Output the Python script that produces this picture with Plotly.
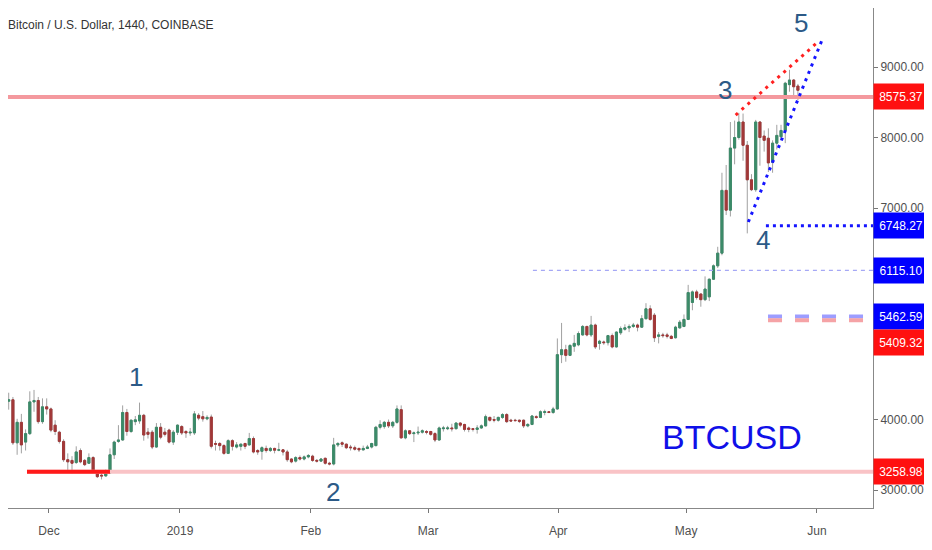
import pandas as pd
import plotly.graph_objects as go

FONT = "Liberation Sans, Arial, sans-serif"

# daily BTCUSD candles, 2018-11-21 .. 2019-05-29
dates = pd.date_range("2018-11-21", "2019-05-29", freq="D")

opens = [
    4350, 4560, 4260, 4280, 3670, 3960, 3680, 3800, 4250, 4270,
    3970, 4180, 4150, 3920, 3820, 3690, 3430, 3420, 3390, 3560,
    3420, 3380, 3460, 3250, 3210, 3200, 3240, 3500, 3690, 3710,
    4100, 3830, 3970, 3980, 4060, 3820, 3820, 3610, 3890, 3820,
    3850, 3680, 3820, 3900, 3830, 3810, 3810, 4060, 4040, 4010,
    4035, 3660, 3660, 3630, 3520, 3700, 3610, 3620, 3660, 3640,
    3730, 3560, 3550, 3590, 3560, 3590, 3565, 3570, 3540, 3440,
    3410, 3460, 3440, 3470, 3480, 3420, 3410, 3450, 3380, 3370,
    3640, 3670, 3650, 3610, 3600, 3590, 3570, 3590, 3610, 3630,
    3890, 3900, 3960, 3910, 3960, 4140, 3740, 3840, 3800, 3810,
    3820, 3830, 3830, 3800, 3710, 3870, 3870, 3880, 3870, 3950,
    3930, 3880, 3870, 3860, 3880, 3910, 4030, 4000, 3990, 4030,
    4070, 3990, 3990, 3990, 3990, 3910, 3930, 4040, 4030, 4100,
    4110, 4100, 4150, 4920, 4990, 4910, 5040, 5060, 5200, 5320,
    5200, 5340, 5080, 5100, 5090, 5190, 5030, 5230, 5280, 5300,
    5320, 5340, 5310, 5430, 5570, 5480, 5180, 5200, 5200, 5180,
    5160, 5300, 5320, 5420, 5660, 5810, 5780, 5700, 5740, 5990,
    6180, 6360, 7250, 6970, 7850, 8000, 8220, 7890, 7400, 7260,
    8220, 8020, 7990, 7650, 7920, 8010, 8100, 8750, 8815, 8730,
]
highs = [
    4620, 4600, 4380, 4320, 4010, 4080, 3860, 4400, 4420, 4320,
    4300, 4300, 4170, 3990, 3840, 3720, 3520, 3480, 3620, 3590,
    3440, 3520, 3480, 3280, 3240, 3290, 3590, 3700, 3920, 4200,
    4150, 4000, 4050, 4240, 4080, 3880, 3850, 3950, 3950, 3880,
    3870, 3850, 3930, 3920, 3850, 3880, 4120, 4090, 4120, 4060,
    4070, 3700, 3680, 3650, 3720, 3720, 3680, 3660, 3670, 3810,
    3760, 3580, 3620, 3630, 3610, 3600, 3670, 3580, 3570, 3450,
    3480, 3490, 3490, 3510, 3500, 3440, 3450, 3460, 3400, 3740,
    3680, 3690, 3660, 3640, 3630, 3600, 3630, 3640, 3670, 3910,
    3990, 3980, 4000, 3980, 4200, 4200, 3860, 3850, 3830, 3900,
    3860, 3850, 3840, 3820, 3900, 3910, 3910, 3940, 3960, 3960,
    3940, 3900, 3880, 3920, 3930, 4070, 4040, 4050, 4040, 4090,
    4090, 4010, 4010, 4000, 4000, 3950, 4060, 4060, 4130, 4140,
    4120, 4180, 5150, 5370, 5060, 5070, 5200, 5250, 5340, 5330,
    5470, 5360, 5130, 5120, 5200, 5220, 5250, 5320, 5350, 5350,
    5370, 5360, 5480, 5650, 5620, 5510, 5240, 5230, 5230, 5200,
    5330, 5410, 5490, 5910, 5830, 5840, 5790, 6030, 6000, 6200,
    6450, 7500, 7610, 8220, 8240, 8350, 8340, 7950, 7480, 8250,
    8230, 8100, 8130, 7960, 8180, 8180, 8790, 8960, 8830, 8760,
]
lows = [
    4320, 4240, 4140, 3640, 3500, 3520, 3560, 3780, 4110, 3940,
    3940, 4070, 3820, 3780, 3660, 3400, 3280, 3230, 3370, 3380,
    3340, 3370, 3260, 3170, 3150, 3190, 3230, 3440, 3670, 3700,
    3770, 3810, 3920, 3940, 3700, 3730, 3580, 3600, 3720, 3760,
    3660, 3640, 3780, 3780, 3740, 3770, 3780, 3990, 3970, 3990,
    3590, 3560, 3560, 3500, 3510, 3560, 3590, 3560, 3580, 3630,
    3520, 3500, 3430, 3530, 3540, 3520, 3550, 3490, 3400, 3380,
    3390, 3420, 3420, 3450, 3400, 3390, 3400, 3360, 3350, 3350,
    3610, 3610, 3580, 3560, 3560, 3540, 3560, 3580, 3590, 3620,
    3860, 3870, 3880, 3880, 3940, 3730, 3720, 3780, 3680, 3780,
    3800, 3790, 3770, 3680, 3700, 3830, 3850, 3830, 3860, 3890,
    3830, 3820, 3830, 3800, 3870, 3900, 3970, 3960, 3970, 4010,
    3950, 3970, 3970, 3950, 3880, 3890, 3920, 4010, 4020, 4060,
    4090, 4080, 4140, 4800, 4820, 4900, 4960, 5040, 5190, 5180,
    5170, 5000, 4990, 5060, 5050, 5010, 5020, 5200, 5260, 5240,
    5300, 5250, 5300, 5420, 5400, 5100, 5080, 5160, 5150, 5140,
    5150, 5290, 5310, 5410, 5550, 5700, 5600, 5680, 5680, 5980,
    6150, 6330, 6900, 6880, 7620, 7970, 7670, 6640, 7240, 7230,
    7600, 7800, 7510, 7500, 7830, 7980, 7920, 8650, 8560, 8530,
]
closes = [
    4560, 4260, 4280, 3670, 3960, 3640, 3800, 4250, 4270, 3970,
    4180, 4150, 3850, 3830, 3690, 3430, 3400, 3380, 3540, 3400,
    3360, 3460, 3280, 3190, 3200, 3240, 3500, 3680, 3710, 4100,
    3830, 3990, 3995, 4060, 3780, 3790, 3610, 3890, 3750, 3790,
    3680, 3820, 3920, 3810, 3810, 3820, 4080, 4020, 4010, 4030,
    3620, 3650, 3630, 3520, 3700, 3620, 3640, 3650, 3620, 3730,
    3540, 3540, 3600, 3560, 3590, 3565, 3570, 3540, 3430, 3400,
    3460, 3440, 3470, 3490, 3420, 3410, 3440, 3380, 3370, 3640,
    3660, 3650, 3600, 3600, 3580, 3570, 3590, 3610, 3660, 3890,
    3930, 3960, 3910, 3960, 4150, 3740, 3840, 3800, 3810, 3820,
    3840, 3820, 3790, 3710, 3880, 3880, 3880, 3870, 3950, 3920,
    3860, 3860, 3860, 3880, 3910, 4040, 3990, 3990, 4030, 4070,
    3970, 3980, 3985, 3975, 3910, 3930, 4050, 4030, 4110, 4110,
    4100, 4150, 4920, 4990, 4910, 5050, 5080, 5220, 5320, 5200,
    5340, 5030, 5110, 5090, 5190, 5030, 5240, 5290, 5300, 5320,
    5340, 5310, 5430, 5570, 5420, 5160, 5200, 5190, 5180, 5150,
    5310, 5380, 5420, 5800, 5810, 5730, 5700, 5850, 5990, 6180,
    6360, 7250, 6970, 7850, 8000, 8220, 7890, 7400, 7260, 8220,
    8000, 7960, 7640, 7920, 8030, 8100, 8770, 8815, 8720, 8670,
]

# horizontal levels shown on the price scale
level_values = [8575.37, 6748.27, 6115.10, 5462.59, 5409.32, 3258.98]
level_colors = ["#ff1010", "#0000ff", "#0000ff", "#0000ff", "#ff1010", "#ff1010"]
level_shifts = [0, 0, 0, 0, -22, 0]

# drawings: (start, end) dates and prices
support_start, support_end = "2018-11-27 08:00", "2018-12-17 00:00"
dashed_start = "2019-03-27 05:00"
dotted_start = "2019-05-21 10:00"
band_start, band_end = "2019-05-21 22:00", "2019-06-13 22:00"
upper_wedge_x = ["2019-05-14 06:00", "2019-06-02 11:00"]
upper_wedge_y = [8319, 9340]
lower_wedge_x = ["2019-05-17 06:00", "2019-06-04 00:00"]
lower_wedge_y = [6801, 9425]
far_left, far_right = "2018-11-01", "2019-07-01"

# Elliott wave labels
wave_text = ["1", "2", "3", "4", "5"]
wave_x = ["2018-12-23 06:00", "2019-02-07 22:00", "2019-05-11 18:00",
          "2019-05-20 18:00", "2019-05-29 18:00"]
wave_y = [4600, 2975, 8675, 6545, 9630]

month_ticks = ["2018-12-02 13:00", "2019-01-02 14:00", "2019-02-02 14:00",
               "2019-03-02 09:00", "2019-04-02 05:00", "2019-05-02 12:00",
               "2019-06-02 12:00"]
month_labels = ["Dec", "2019", "Feb", "Mar", "Apr", "May", "Jun"]
price_ticks = [3000, 4000, 5000, 6000, 7000, 8000, 9000]

GREEN = "#3b8b69"
RED = "#a23838"
WICK = "#a0a0a0"

body_high = [max(o, c) for o, c in zip(opens, closes)]
body_low = [min(o, c) for o, c in zip(opens, closes)]

fig = go.Figure()


def hline(x0, x1, y, color, width, dash="solid"):
    fig.add_trace(go.Scatter(x=[x0, x1], y=[y, y], mode="lines",
                             line=dict(color=color, width=width, dash=dash),
                             hoverinfo="skip"))


# horizontal levels sit under the candles
hline(far_left, far_right, level_values[0], "#f4999e", 4)
hline(support_start, far_right, level_values[5], "#f9c3c6", 4)
hline(support_start, support_end, level_values[5], "#ff1a1a", 4)
hline(dashed_start, far_right, level_values[2], "#a5a8f5", 1.3, "4px,4px")

# wicks (grey) underneath, coloured bodies on top
fig.add_trace(go.Candlestick(
    x=dates, open=opens, high=highs, low=lows, close=closes,
    increasing=dict(line=dict(color=WICK, width=1), fillcolor=WICK),
    decreasing=dict(line=dict(color=WICK, width=1), fillcolor=WICK),
    whiskerwidth=0, hoverinfo="skip",
))
fig.add_trace(go.Candlestick(
    x=dates, open=opens, high=body_high, low=body_low, close=closes,
    increasing=dict(line=dict(color=GREEN, width=1), fillcolor=GREEN),
    decreasing=dict(line=dict(color=RED, width=1), fillcolor=RED),
    whiskerwidth=0,
))

hline(dotted_start, far_right, level_values[1], "#1515ff", 3, "3px,4px")
hline(band_start, band_end, level_values[3], "#9d9dff", 4, "14px,13px")
hline(band_start, band_end, level_values[4], "#f5a3a6", 4, "14px,13px")

# rising wedge
fig.add_trace(go.Scatter(x=upper_wedge_x, y=upper_wedge_y, mode="lines",
                         line=dict(color="#ff2020", width=3, dash="3px,5px"),
                         hoverinfo="skip"))
fig.add_trace(go.Scatter(x=lower_wedge_x, y=lower_wedge_y, mode="lines",
                         line=dict(color="#1515ff", width=3, dash="3px,5px"),
                         hoverinfo="skip"))

for t, x, y in zip(wave_text, wave_x, wave_y):
    fig.add_annotation(x=x, y=y, text=t, showarrow=False,
                       font=dict(family=FONT, size=26, color="#2c5a87"))

fig.add_annotation(x="2019-05-13 10:00", y=3752, text="BTCUSD", showarrow=False,
                   font=dict(family=FONT, size=34, color="#1010e8"))

# price labels on the right scale
for v, c, s in zip(level_values, level_colors, level_shifts):
    fig.add_annotation(xref="paper", x=1, xanchor="left", y=v, yshift=s,
                       text=f"{v:.2f}", showarrow=False, bgcolor=c,
                       width=48, height=19, borderpad=3,
                       font=dict(family=FONT, size=12, color="white"))

# the page adds an 8px body margin, so the figure is 8px smaller each way
fig.update_layout(
    width=924, height=542,
    margin=dict(l=0, r=59, t=0, b=42),
    paper_bgcolor="white", plot_bgcolor="white",
    showlegend=False,
    title=dict(text="Bitcoin / U.S. Dollar, 1440, COINBASE",
               x=0, xanchor="left", y=0.969, yanchor="middle",
               font=dict(family=FONT, size=12, color="#333333")),
    xaxis=dict(
        type="date", range=["2018-11-22 20:00", "2019-06-15 19:00"],
        rangeslider=dict(visible=False),
        tickvals=month_ticks, ticktext=month_labels,
        ticks="outside", ticklen=4, tickcolor="#777",
        showline=True, linecolor="#888", linewidth=1,
        showgrid=False, zeroline=False, ticklabelstandoff=8,
        tickfont=dict(family=FONT, size=12, color="#505050"),
    ),
    yaxis=dict(
        side="right", range=[2745, 9837],
        tickvals=price_ticks, ticktext=[f"{v:.2f}" for v in price_ticks],
        ticks="outside", ticklen=4, tickcolor="#777",
        showline=True, linecolor="#888", linewidth=1,
        showgrid=False, zeroline=False,
        tickfont=dict(family=FONT, size=12, color="#505050"),
    ),
)

fig.write_html("out.html")
